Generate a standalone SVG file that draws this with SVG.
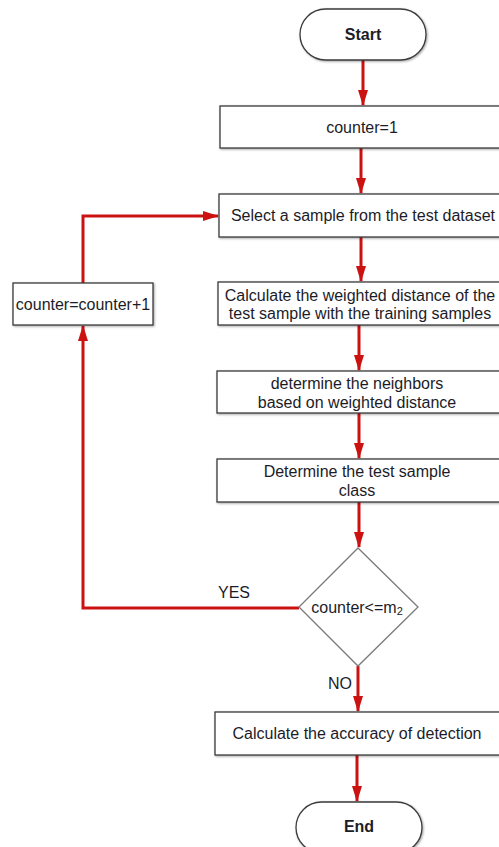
<svg xmlns="http://www.w3.org/2000/svg" width="499" height="847" viewBox="0 0 499 847">
<defs>
<marker id="ah" markerWidth="16" markerHeight="10" refX="15" refY="5" orient="auto" markerUnits="userSpaceOnUse" viewBox="0 0 16 10">
<path d="M0,0 L16,5 L0,10 Z" fill="#cc1111"/>
</marker>
<filter id="sh" x="-5%" y="-5%" width="115%" height="130%">
<feDropShadow dx="1" dy="1" stdDeviation="0.8" flood-color="#000" flood-opacity="0.35"/>
</filter>
</defs>
<style>
.box{fill:#fff;stroke:#3a3a3a;stroke-width:1.3;filter:url(#sh)}
.dia{fill:#fff;stroke:#7a7a7a;stroke-width:1.3}
.t{font-family:"Liberation Sans",Arial,sans-serif;font-size:16px;fill:#1c1c28;text-anchor:middle;dominant-baseline:central}
.b{font-weight:bold}
.l{font-family:"Liberation Sans",Arial,sans-serif;font-size:16px;fill:#1c1c28}
.c{fill:none;stroke:#cc1111;stroke-width:3;marker-end:url(#ah)}
</style>
<g id="connectors">
<path class="c" d="M363,60 L363,105"/>
<path class="c" d="M361,148 L361,193"/>
<path class="c" d="M361,237 L361,281"/>
<path class="c" d="M359,325 L359,370"/>
<path class="c" d="M359,413 L359,458"/>
<path class="c" d="M359,502 L359,547"/>
<path class="c" d="M299,608 L83,608 L83,326"/>
<path class="c" d="M83,283 L83,216 L218,216"/>
<path class="c" d="M358,666 L358,711"/>
<path class="c" d="M357,755 L357,801"/>
<text class="l" x="218" y="598">YES</text>
<text class="l" x="328" y="689">NO</text>
</g>
<g id="start">
<rect class="box" x="300" y="9" width="126" height="51" rx="25.5"/>
<text class="t b" x="363" y="34">Start</text>
</g>
<g id="init">
<rect class="box" x="220" y="106" width="290" height="42"/>
<text class="t" x="362" y="127">counter=1</text>
</g>
<g id="select">
<rect class="box" x="219" y="194" width="290" height="43"/>
<text class="t" x="363" y="215">Select a sample from the test dataset</text>
</g>
<g id="calc">
<rect class="box" x="218" y="282" width="290" height="43"/>
<text class="t" x="360" y="295">Calculate the weighted distance of the</text>
<text class="t" x="360" y="313">test sample with the training samples</text>
</g>
<g id="neighbors">
<rect class="box" x="217" y="371" width="290" height="42"/>
<text class="t" x="357" y="383">determine the neighbors</text>
<text class="t" x="357" y="402">based on weighted distance</text>
</g>
<g id="classify">
<rect class="box" x="217" y="459" width="290" height="43"/>
<text class="t" x="357" y="471">Determine the test sample</text>
<text class="t" x="357" y="490">class</text>
</g>
<g id="decision">
<path class="dia" d="M358,548 L418,607 L358,666 L299,607 Z"/>
<text class="t" x="357" y="607">counter&lt;=m<tspan font-size="11" dy="4">2</tspan></text>
</g>
<g id="increment">
<rect class="box" x="13" y="283" width="140" height="42"/>
<text class="t" x="83" y="304">counter=counter+1</text>
</g>
<g id="accuracy">
<rect class="box" x="215" y="712" width="295" height="43"/>
<text class="t" x="357" y="733">Calculate the accuracy of detection</text>
</g>
<g id="end">
<rect class="box" x="296" y="802" width="126" height="51" rx="25.5"/>
<text class="t b" x="359" y="826">End</text>
</g>
</svg>
